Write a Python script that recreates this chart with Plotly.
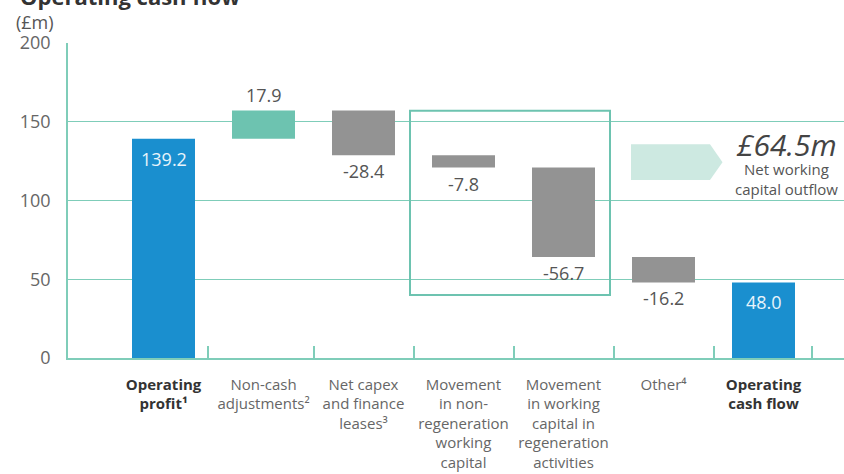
import plotly.graph_objects as go

# ---- data ----
categories = [
    "<b><span style='color:#333'>Operating<br>profit¹</span></b>",
    "Non-cash<br>adjustments²",
    "Net capex<br>and finance<br>leases³",
    "Movement<br>in non-<br>regeneration<br>working<br>capital",
    "Movement<br>in working<br>capital in<br>regeneration<br>activities",
    "Other⁴",
    "<b><span style='color:#333'>Operating<br>cash flow</span></b>",
]
values = [139.2, 17.9, -28.4, -7.8, -56.7, -16.2, 48.0]
measures = ["absolute", "relative", "relative", "relative", "relative", "relative", "total"]
y_ticks = [0, 50, 100, 150, 200]
callout_value = "£64.5m"
callout_text = "Net working<br>capital outflow"

BLUE = "#1a8fcf"
TEAL = "#6dc3b0"
GREY = "#939393"
LINE = "#7fcdb9"
TXT = "#555555"

# compute bases from the running total
bases, heights, colors = [], [], []
running = 0.0
for v, m in zip(values, measures):
    if m == "absolute":
        bases.append(0.0); heights.append(v); colors.append(BLUE); running = v
    elif m == "total":
        bases.append(0.0); heights.append(running); colors.append(BLUE)
    else:
        bases.append(running); heights.append(v); colors.append(TEAL if v > 0 else GREY); running += v

xs = list(range(len(categories)))

fig = go.Figure()
fig.add_trace(go.Bar(
    x=xs, y=heights, base=bases, marker=dict(color=colors, line=dict(width=0)),
    width=0.63, hoverinfo="skip", showlegend=False,
))

annotations = []
for x, b, h, v, m in zip(xs, bases, heights, values, measures):
    if m in ("absolute", "total"):
        annotations.append(dict(x=x, y=b + h, xref="x", yref="y", text=f"{v:.1f}",
                                showarrow=False, yanchor="middle", yshift=-20,
                                font=dict(size=18, color="#e8f4fb", family="Open Sans")))
    elif v > 0:
        annotations.append(dict(x=x, y=b + h, xref="x", yref="y", text=f"{v:.1f}",
                                showarrow=False, yanchor="middle", yshift=16,
                                font=dict(size=18, color=TXT, family="Open Sans")))
    else:
        annotations.append(dict(x=x, y=b + h, xref="x", yref="y", text=f"{v:.1f}",
                                showarrow=False, yanchor="middle", yshift=-16,
                                font=dict(size=18, color=TXT, family="Open Sans")))

# title and unit
annotations.append(dict(x=0, y=1.0, xref="paper", yref="paper", text="<b>Operating cash flow</b>",
                        showarrow=False, xanchor="left", yanchor="bottom", xshift=-50, yshift=30,
                        font=dict(size=22, color="#333", family="Open Sans")))
annotations.append(dict(x=0, y=1.0, xref="paper", yref="paper", text="(£m)",
                        showarrow=False, xanchor="left", yanchor="middle", xshift=-54, yshift=21,
                        font=dict(size=18, color=TXT, family="Open Sans")))
# callout
annotations.append(dict(x=6.23, y=135.5, xref="x", yref="y", text=f"<i>{callout_value}</i>",
                        showarrow=False, xanchor="center", yanchor="middle",
                        font=dict(size=30, color="#444", family="Open Sans")))
annotations.append(dict(x=6.23, y=113.5, xref="x", yref="y", text=callout_text,
                        showarrow=False, xanchor="center", yanchor="middle",
                        font=dict(size=15, color=TXT, family="Open Sans")))

shapes = [
    dict(type="rect", xref="x", yref="y", x0=2.465, x1=4.465, y0=40, y1=157,
         line=dict(color=TEAL, width=2), fillcolor="rgba(0,0,0,0)", layer="above"),
    dict(type="path", xref="x", yref="y",
         path="M 4.675 113 L 4.675 135.7 L 5.465 135.7 L 5.59 124.3 L 5.465 113 Z",
         line=dict(width=0), fillcolor="#cde9e1", layer="above"),
]

fig.update_layout(
    width=844, height=474,
    margin=dict(l=68, r=0, t=43, b=116),
    paper_bgcolor="white", plot_bgcolor="white",
    font=dict(family="Open Sans", color=TXT),
    annotations=annotations, shapes=shapes,
    bargap=0.37,
)
fig.update_xaxes(
    range=[-0.955, 6.805], tickmode="array", tickvals=xs, ticktext=categories,
    tickfont=dict(size=15, color="#666"), ticks="", showgrid=False,
    showline=True, linecolor=LINE, linewidth=1.5, zeroline=False,
    ticklabelstandoff=12,
    minor=dict(tickmode="array", tickvals=[0.445, 1.5, 2.5, 3.5, 4.5, 5.5, 6.485],
               ticks="inside", ticklen=12, tickcolor=LINE, tickwidth=1.5, showgrid=False),
)
fig.update_yaxes(
    range=[0, 200], tickmode="array", tickvals=y_ticks,
    tickfont=dict(size=18, color="#666"), showgrid=True, gridcolor=LINE, gridwidth=1,
    showline=True, linecolor=LINE, linewidth=1.5, zeroline=False, ticklabelstandoff=12,
)

fig.write_html(
    "out.html",
    config={"displayModeBar": False},
    post_script="document.body.style.margin='0';document.body.style.overflow='hidden';",
)
